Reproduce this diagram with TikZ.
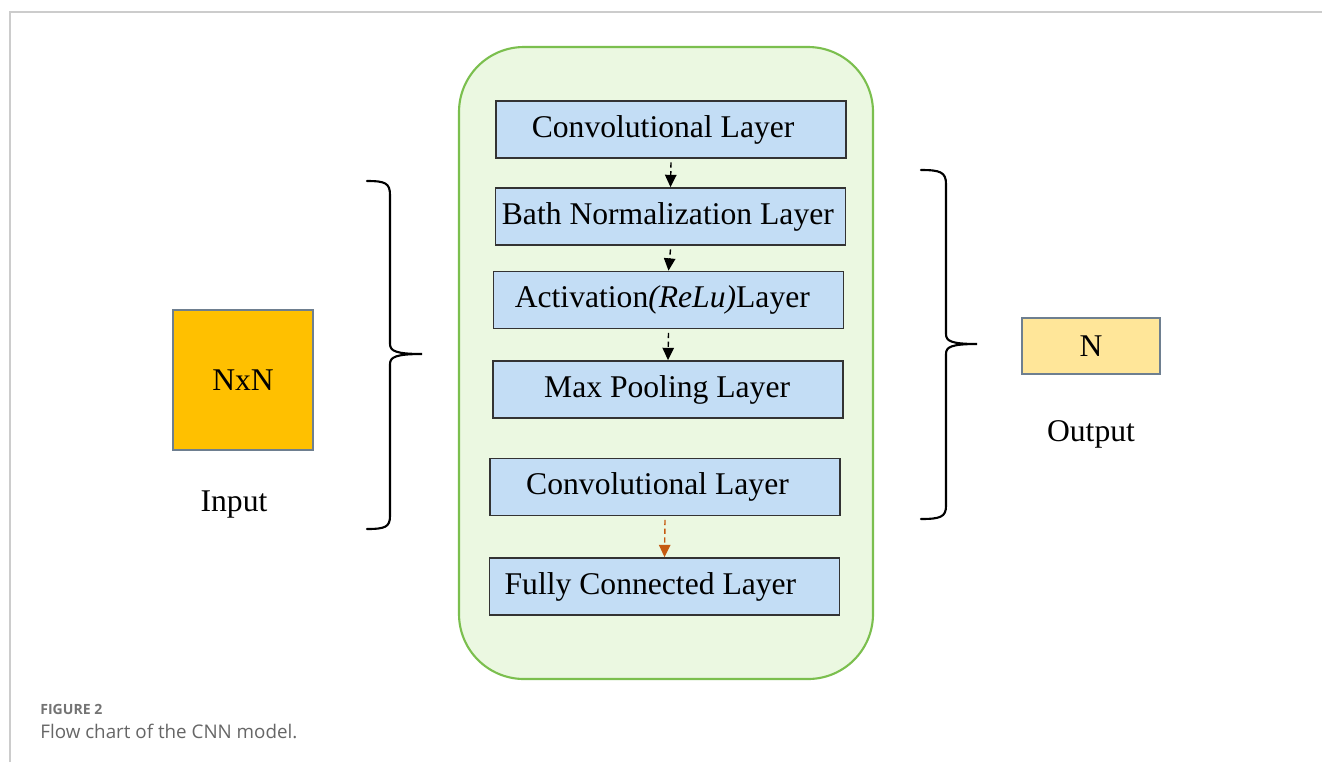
\documentclass[tikz,border=0pt]{standalone}
\usepackage{fontspec}
\setmainfont{Liberation Serif}
\newfontfamily\capfont{Open Sans}
\usepackage{xcolor}
\usetikzlibrary{arrows.meta,positioning,calc,backgrounds}
\definecolor{panelgreen}{HTML}{EBF8E1}
\definecolor{panelline}{HTML}{7BBF4E}
\definecolor{layerblue}{HTML}{C3DDF5}
\definecolor{inputgold}{HTML}{FFC000}
\definecolor{outputyellow}{HTML}{FFE699}
\definecolor{boxedge}{HTML}{6E7F90}
\definecolor{fcorange}{HTML}{C55A11}

\begin{document}
\begin{tikzpicture}[x=0.02cm,y=-0.02cm,
        layer/.style={draw=black!80, line width=1pt, fill=layerblue, minimum width=7cm, minimum height=1.14cm, inner sep=0pt, font=\fontsize{18}{20}\selectfont},
        nudge/.style={execute at end node={\hspace*{#1}}},
        flow/.style={densely dashed, line width=0.8pt, -{Triangle[length=7pt,width=6.5pt]}},
        bracepath/.style={line width=1.2pt, line cap=round}]
        \useasboundingbox (0,0) rectangle (1322,762);
        \draw[black!20, line width=0.8pt] (10,762) -- (10,12) -- (1322,12);
        % panel holding the layers
        \draw[panelline, fill=panelgreen, line width=1.2pt, rounded corners=1.3cm] (459,47) rectangle (873,679);
        \node[layer, nudge=9pt] (conv1) at (671,129.5) {Convolutional Layer};
        \node[layer, nudge=3pt] (bnorm) at (670.5,216.5) {Bath Normalization Layer};
        \node[layer, nudge=7pt] (relu) at (668.5,300) {Activation\textit{(ReLu)}Layer};
        \node[layer, nudge=1pt] (pool) at (668,389.5) {Max Pooling Layer};
        \node[layer, nudge=8.5pt] (conv2) at (665,487) {Convolutional Layer};
        \node[layer, nudge=16pt] (fc) at (664.5,586.5) {Fully Connected Layer};
        \draw[flow] ([yshift=-2pt]conv1.south) -- (bnorm.north);
        \draw[flow] ([yshift=-2pt]bnorm.south) -- (relu.north);
        \draw[flow] ([yshift=-2pt]relu.south) -- (pool.north);
        \draw[flow, fcorange] ([yshift=-2pt]conv2.south) -- (fc.north);
        % input and output
        \node[draw=boxedge, line width=1pt, fill=inputgold, minimum size=2.8cm, inner sep=0pt, font=\fontsize{18}{20}\selectfont] (inp) at (243,380) {NxN};
        \node[font=\fontsize{18}{20}\selectfont] (inplabel) at (234,504) {Input};
        \node[draw=boxedge, line width=1pt, fill=outputyellow, minimum width=2.76cm, minimum height=1.12cm, inner sep=0pt, font=\fontsize{18}{20}\selectfont] (out) at (1091,346) {N};
        \node[font=\fontsize{18}{20}\selectfont] (outlabel) at (1091,434) {Output};
        % braces
        \draw[bracepath] (367,181) .. controls (385,181) and (390,183) .. (390,195) -- (390,344)
            .. controls (390,351) and (396,354) .. (422,354)
            .. controls (396,354) and (390,357) .. (390,364) -- (390,516)
            .. controls (390,527) and (385,529) .. (367,529);
        \draw[bracepath] (921,170) .. controls (940,170) and (946,172) .. (946,184) -- (946,334)
            .. controls (946,341) and (951,344) .. (977,344)
            .. controls (951,344) and (946,347) .. (946,354) -- (946,506)
            .. controls (946,517) and (940,519) .. (921,519);
        % caption
        \node[anchor=base west, inner sep=0pt, text=black!55, font=\capfont\bfseries\fontsize{8}{10}\selectfont] (capnum) at (40,714) {FIGURE 2};
        \node[anchor=base west, inner sep=0pt, text=black!60, font=\capfont\fontsize{10.7}{13}\selectfont] (captext) at (40,738) {Flow chart of the CNN model.};
\end{tikzpicture}
\end{document}
